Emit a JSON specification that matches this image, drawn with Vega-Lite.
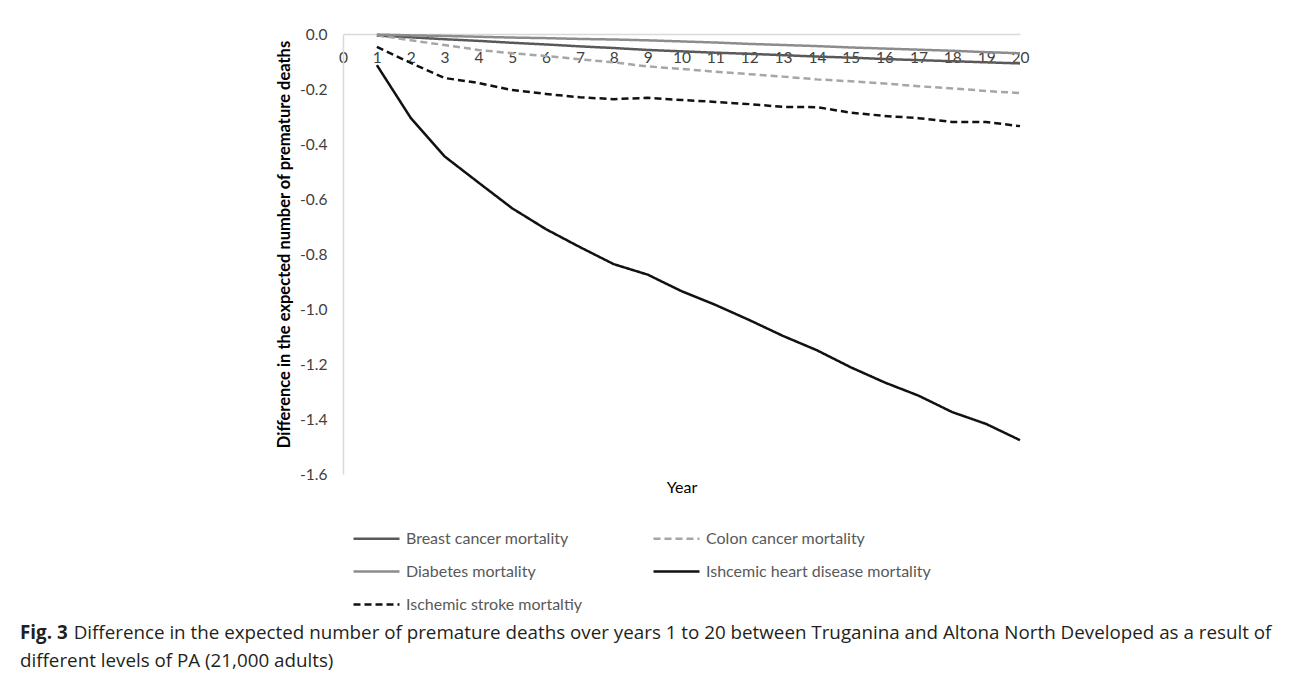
{
  "$schema": "https://vega.github.io/schema/vega-lite/v6.json",
  "width": 677,
  "height": 440,
  "autosize": "none",
  "padding": {"left": 343, "top": 34, "right": 270, "bottom": 209},
  "background": "white",
  "config": {
    "view": {"stroke": null},
    "font": "Lato",
    "locale": {"number": {"decimal": ".", "thousands": ",", "grouping": [3], "currency": ["$", ""], "minus": "-"}}
  },
  "title": {
    "text": "Fig. 3",
    "subtitle": ["\u200b\u00a0\u00a0\u00a0\u00a0\u00a0\u00a0\u00a0\u00a0\u00a0\u00a0\u00a0Difference in the expected number of premature deaths over years 1 to 20 between Truganina and Altona North Developed as a result of", "different levels of PA (21,000 adults)"],
    "orient": "top",
    "anchor": "start",
    "frame": "group",
    "dx": -323,
    "dy": 648,
    "font": "Open Sans",
    "fontSize": 18.8,
    "fontWeight": "bold",
    "color": "#231f20",
    "subtitleFont": "Open Sans",
    "subtitleFontSize": 18.8,
    "subtitleColor": "#231f20",
    "subtitlePadding": -18.8,
    "subtitleLineHeight": 28
  },
  "data": {"values": [
    {"year": 1, "series": "Breast cancer mortality", "value": -0.006},
    {"year": 2, "series": "Breast cancer mortality", "value": -0.012},
    {"year": 3, "series": "Breast cancer mortality", "value": -0.019},
    {"year": 4, "series": "Breast cancer mortality", "value": -0.025},
    {"year": 5, "series": "Breast cancer mortality", "value": -0.032},
    {"year": 6, "series": "Breast cancer mortality", "value": -0.038},
    {"year": 7, "series": "Breast cancer mortality", "value": -0.045},
    {"year": 8, "series": "Breast cancer mortality", "value": -0.051},
    {"year": 9, "series": "Breast cancer mortality", "value": -0.058},
    {"year": 10, "series": "Breast cancer mortality", "value": -0.063},
    {"year": 11, "series": "Breast cancer mortality", "value": -0.068},
    {"year": 12, "series": "Breast cancer mortality", "value": -0.072},
    {"year": 13, "series": "Breast cancer mortality", "value": -0.077},
    {"year": 14, "series": "Breast cancer mortality", "value": -0.082},
    {"year": 15, "series": "Breast cancer mortality", "value": -0.086},
    {"year": 16, "series": "Breast cancer mortality", "value": -0.091},
    {"year": 17, "series": "Breast cancer mortality", "value": -0.095},
    {"year": 18, "series": "Breast cancer mortality", "value": -0.099},
    {"year": 19, "series": "Breast cancer mortality", "value": -0.103},
    {"year": 20, "series": "Breast cancer mortality", "value": -0.107},
    {"year": 1, "series": "Colon cancer mortality", "value": -0.004},
    {"year": 2, "series": "Colon cancer mortality", "value": -0.023},
    {"year": 3, "series": "Colon cancer mortality", "value": -0.04},
    {"year": 4, "series": "Colon cancer mortality", "value": -0.058},
    {"year": 5, "series": "Colon cancer mortality", "value": -0.07},
    {"year": 6, "series": "Colon cancer mortality", "value": -0.08},
    {"year": 7, "series": "Colon cancer mortality", "value": -0.092},
    {"year": 8, "series": "Colon cancer mortality", "value": -0.103},
    {"year": 9, "series": "Colon cancer mortality", "value": -0.118},
    {"year": 10, "series": "Colon cancer mortality", "value": -0.127},
    {"year": 11, "series": "Colon cancer mortality", "value": -0.137},
    {"year": 12, "series": "Colon cancer mortality", "value": -0.146},
    {"year": 13, "series": "Colon cancer mortality", "value": -0.155},
    {"year": 14, "series": "Colon cancer mortality", "value": -0.165},
    {"year": 15, "series": "Colon cancer mortality", "value": -0.172},
    {"year": 16, "series": "Colon cancer mortality", "value": -0.18},
    {"year": 17, "series": "Colon cancer mortality", "value": -0.19},
    {"year": 18, "series": "Colon cancer mortality", "value": -0.198},
    {"year": 19, "series": "Colon cancer mortality", "value": -0.207},
    {"year": 20, "series": "Colon cancer mortality", "value": -0.215},
    {"year": 1, "series": "Diabetes mortality", "value": -0.002},
    {"year": 2, "series": "Diabetes mortality", "value": -0.005},
    {"year": 3, "series": "Diabetes mortality", "value": -0.007},
    {"year": 4, "series": "Diabetes mortality", "value": -0.01},
    {"year": 5, "series": "Diabetes mortality", "value": -0.013},
    {"year": 6, "series": "Diabetes mortality", "value": -0.015},
    {"year": 7, "series": "Diabetes mortality", "value": -0.018},
    {"year": 8, "series": "Diabetes mortality", "value": -0.02},
    {"year": 9, "series": "Diabetes mortality", "value": -0.023},
    {"year": 10, "series": "Diabetes mortality", "value": -0.027},
    {"year": 11, "series": "Diabetes mortality", "value": -0.031},
    {"year": 12, "series": "Diabetes mortality", "value": -0.036},
    {"year": 13, "series": "Diabetes mortality", "value": -0.04},
    {"year": 14, "series": "Diabetes mortality", "value": -0.044},
    {"year": 15, "series": "Diabetes mortality", "value": -0.049},
    {"year": 16, "series": "Diabetes mortality", "value": -0.053},
    {"year": 17, "series": "Diabetes mortality", "value": -0.057},
    {"year": 18, "series": "Diabetes mortality", "value": -0.061},
    {"year": 19, "series": "Diabetes mortality", "value": -0.066},
    {"year": 20, "series": "Diabetes mortality", "value": -0.07},
    {"year": 1, "series": "Ishcemic heart disease mortality", "value": -0.113},
    {"year": 2, "series": "Ishcemic heart disease mortality", "value": -0.305},
    {"year": 3, "series": "Ishcemic heart disease mortality", "value": -0.445},
    {"year": 4, "series": "Ishcemic heart disease mortality", "value": -0.54},
    {"year": 5, "series": "Ishcemic heart disease mortality", "value": -0.634},
    {"year": 6, "series": "Ishcemic heart disease mortality", "value": -0.71},
    {"year": 7, "series": "Ishcemic heart disease mortality", "value": -0.775},
    {"year": 8, "series": "Ishcemic heart disease mortality", "value": -0.837},
    {"year": 9, "series": "Ishcemic heart disease mortality", "value": -0.875},
    {"year": 10, "series": "Ishcemic heart disease mortality", "value": -0.935},
    {"year": 11, "series": "Ishcemic heart disease mortality", "value": -0.985},
    {"year": 12, "series": "Ishcemic heart disease mortality", "value": -1.04},
    {"year": 13, "series": "Ishcemic heart disease mortality", "value": -1.098},
    {"year": 14, "series": "Ishcemic heart disease mortality", "value": -1.15},
    {"year": 15, "series": "Ishcemic heart disease mortality", "value": -1.212},
    {"year": 16, "series": "Ishcemic heart disease mortality", "value": -1.267},
    {"year": 17, "series": "Ishcemic heart disease mortality", "value": -1.315},
    {"year": 18, "series": "Ishcemic heart disease mortality", "value": -1.375},
    {"year": 19, "series": "Ishcemic heart disease mortality", "value": -1.418},
    {"year": 20, "series": "Ishcemic heart disease mortality", "value": -1.477},
    {"year": 1, "series": "Ischemic stroke mortaltiy", "value": -0.047},
    {"year": 2, "series": "Ischemic stroke mortaltiy", "value": -0.105},
    {"year": 3, "series": "Ischemic stroke mortaltiy", "value": -0.16},
    {"year": 4, "series": "Ischemic stroke mortaltiy", "value": -0.178},
    {"year": 5, "series": "Ischemic stroke mortaltiy", "value": -0.204},
    {"year": 6, "series": "Ischemic stroke mortaltiy", "value": -0.218},
    {"year": 7, "series": "Ischemic stroke mortaltiy", "value": -0.23},
    {"year": 8, "series": "Ischemic stroke mortaltiy", "value": -0.237},
    {"year": 9, "series": "Ischemic stroke mortaltiy", "value": -0.232},
    {"year": 10, "series": "Ischemic stroke mortaltiy", "value": -0.24},
    {"year": 11, "series": "Ischemic stroke mortaltiy", "value": -0.247},
    {"year": 12, "series": "Ischemic stroke mortaltiy", "value": -0.255},
    {"year": 13, "series": "Ischemic stroke mortaltiy", "value": -0.265},
    {"year": 14, "series": "Ischemic stroke mortaltiy", "value": -0.266},
    {"year": 15, "series": "Ischemic stroke mortaltiy", "value": -0.286},
    {"year": 16, "series": "Ischemic stroke mortaltiy", "value": -0.298},
    {"year": 17, "series": "Ischemic stroke mortaltiy", "value": -0.306},
    {"year": 18, "series": "Ischemic stroke mortaltiy", "value": -0.32},
    {"year": 19, "series": "Ischemic stroke mortaltiy", "value": -0.32},
    {"year": 20, "series": "Ischemic stroke mortaltiy", "value": -0.335}
  ]},
  "mark": {"type": "line", "strokeWidth": 2.5},
  "encoding": {
    "x": {
      "field": "year", "type": "quantitative",
      "scale": {"domain": [0, 20], "nice": false, "zero": false},
      "axis": {
        "orient": "top",
        "values": [0,1,2,3,4,5,6,7,8,9,10,11,12,13,14,15,16,17,18,19,20],
        "format": "d",
        "grid": false, "ticks": false, "tickSize": 0,
        "domainColor": "#d9d9d9", "domainWidth": 1.5,
        "labelPadding": -28.5, "labelBaseline": "alphabetic",
        "labelFont": "Lato", "labelFontSize": 15.5, "labelColor": "#404040",
        "labelFlush": false, "labelOverlap": false,
        "title": "Year", "titleFont": "Lato", "titleFontSize": 16, "titleFontWeight": "normal", "titleColor": "#000000",
        "titleY": 453, "titleBaseline": "middle"
      }
    },
    "y": {
      "field": "value", "type": "quantitative",
      "scale": {"domain": [-1.6, 0], "nice": false, "zero": false},
      "axis": {
        "values": [0, -0.2, -0.4, -0.6, -0.8, -1.0, -1.2, -1.4, -1.6],
        "format": ".1f",
        "grid": false, "ticks": false, "tickSize": 0,
        "domainColor": "#d9d9d9", "domainWidth": 1.5,
        "labelPadding": 16,
        "labelFont": "Lato", "labelFontSize": 15.5, "labelColor": "#404040",
        "labelFlush": false, "labelOverlap": false,
        "title": "Difference in the expected number of premature deaths",
        "titleFont": "Lato", "titleFontSize": 16.5, "titleFontWeight": "bold", "titleColor": "#000000",
        "titleX": -59, "titleY": 210, "titleBaseline": "middle", "titleAngle": -90
      }
    },
    "color": {
      "field": "series", "type": "nominal",
      "scale": {
        "domain": ["Breast cancer mortality", "Colon cancer mortality", "Diabetes mortality", "Ishcemic heart disease mortality", "Ischemic stroke mortaltiy"],
        "range": ["#595959", "#a6a6a6", "#8c8c8c", "#111111", "#111111"]
      },
      "legend": {
        "orient": "none", "legendX": 9, "legendY": 480, "columns": 2, "direction": "horizontal",
        "title": null, "padding": 0,
        "symbolType": "stroke", "symbolSize": 2116, "symbolStrokeWidth": 2.5,
        "labelFont": "Lato", "labelFontSize": 16, "labelColor": "#595959", "labelOffset": 5, "labelLimit": 400,
        "rowPadding": -13, "columnPadding": 66
      }
    },
    "strokeDash": {
      "field": "series", "type": "nominal",
      "scale": {
        "domain": ["Breast cancer mortality", "Colon cancer mortality", "Diabetes mortality", "Ishcemic heart disease mortality", "Ischemic stroke mortaltiy"],
        "range": [[1, 0], [7, 4], [1, 0], [1, 0], [7, 4]]
      },
      "legend": {
        "orient": "none", "legendX": 9, "legendY": 480, "columns": 2, "direction": "horizontal",
        "title": null, "padding": 0,
        "symbolType": "stroke", "symbolSize": 2116, "symbolStrokeWidth": 2.5,
        "labelFont": "Lato", "labelFontSize": 16, "labelColor": "#595959", "labelOffset": 5, "labelLimit": 400,
        "rowPadding": -13, "columnPadding": 66
      }
    }
  }
}
